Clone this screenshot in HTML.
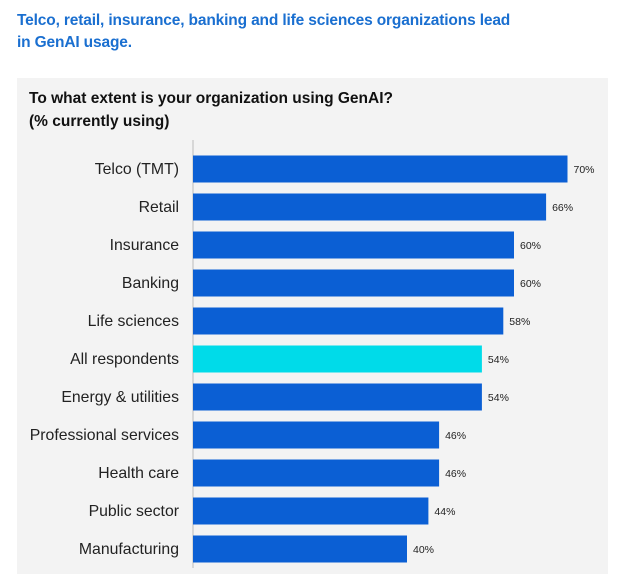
<!DOCTYPE html>
<html><head><meta charset="utf-8"><style>
body{margin:0;background:#fff;width:621px;height:574px;overflow:hidden;font-family:"Liberation Sans",sans-serif;}
#title{position:absolute;left:17px;top:10px;color:#1a6fd0;font-weight:bold;font-size:15.5px;line-height:22px;letter-spacing:-0.15px}
#panel{position:absolute;left:17px;top:78px;width:591px;height:496px;background:#f3f3f3}
#ctitle{position:absolute;left:29px;top:87px;color:#111;font-weight:bold;font-size:15.5px;line-height:23px;letter-spacing:0px}
svg{position:absolute;left:0;top:0}
</style></head><body>
<div id="title">Telco, retail, insurance, banking and life sciences organizations lead<br>in GenAI usage.</div>
<div id="panel"></div>
<div id="ctitle">To what extent is your organization using GenAI?<br>(% currently using)</div>
<svg id="chart" width="621" height="574"></svg>
<script>
const categories=["Telco (TMT)","Retail","Insurance","Banking","Life sciences","All respondents","Energy & utilities","Professional services","Health care","Public sector","Manufacturing"];
const values=[70,66,60,60,58,54,54,46,46,44,40];
const highlight=["All respondents"];
const svg=document.getElementById('chart');
const NS='http://www.w3.org/2000/svg';
const x0=193,k=5.35,y0=169,step=38,bh=27;
const xs=v=>x0+v*k, ys=i=>y0+i*step;
const ax=document.createElementNS(NS,'line');
ax.setAttribute('x1',x0);ax.setAttribute('x2',x0);ax.setAttribute('y1',140);ax.setAttribute('y2',568);
ax.setAttribute('stroke','#bbb');ax.setAttribute('stroke-width','1');


svg.appendChild(ax);
categories.forEach((c,i)=>{
  const y=ys(i);
  const r=document.createElementNS(NS,'rect');
  r.setAttribute('x',x0);r.setAttribute('y',y-bh/2);r.setAttribute('width',xs(values[i])-x0);r.setAttribute('height',bh);
  r.setAttribute('fill',highlight.includes(c)?'#00dbe9':'#0b5fd4');
  
  
  svg.appendChild(r);
  const t=document.createElementNS(NS,'text');
  t.setAttribute('x',179);t.setAttribute('y',y+5);t.setAttribute('text-anchor','end');
  t.setAttribute('font-size','15.8');t.setAttribute('fill','#222');t.setAttribute('font-family','Liberation Sans, sans-serif');
  t.textContent=c;
  
  
  svg.appendChild(t);
  const v=document.createElementNS(NS,'text');
  v.setAttribute('x',xs(values[i])+6);v.setAttribute('y',y+4);
  v.setAttribute('font-size','10.5');v.setAttribute('fill','#222');v.setAttribute('font-family','Liberation Sans, sans-serif');
  v.textContent=values[i]+'%';
  
  
  svg.appendChild(v);
});
</script>
</body></html>
